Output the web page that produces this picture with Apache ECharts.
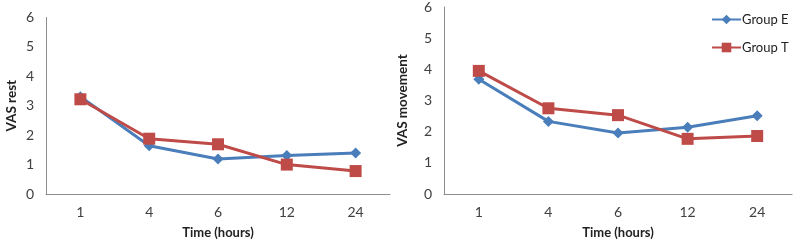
<!DOCTYPE html>
<html><head><meta charset="utf-8">
<script src="https://cdn.jsdelivr.net/npm/echarts@6/dist/echarts.min.js"></script>
<style>html,body{margin:0;padding:0;background:#fff}#c{width:794px;height:244px}</style>
</head><body><div id="c"></div>
<script>
const categories = ['1','4','6','12','24'];
const restE = [3.31, 1.64, 1.19, 1.31, 1.39];
const restT = [3.22, 1.88, 1.69, 1.0, 0.78];
const moveE = [3.68, 2.33, 1.96, 2.14, 2.51];
const moveT = [3.95, 2.75, 2.53, 1.77, 1.86];
const yTicks = [0,1,2,3,4,5,6];

const FONT = 'Lato, "Open Sans", sans-serif';
const BLUE = '#4a7ebb', RED = '#be4b48', AX = '#8c8c8c', TXT = '#404040';

function xAxis(gi){
  return {type:'category', gridIndex:gi, data:categories, boundaryGap:true,
    axisLine:{lineStyle:{color:AX,width:1}}, axisTick:{show:false},
    axisLabel:{color:TXT,fontFamily:FONT,fontSize:14,margin:11},
    name:'Time (hours)', nameLocation:'middle', nameGap:32,
    nameTextStyle:{color:'#222',fontFamily:FONT,fontSize:13,fontWeight:'bold'}};
}
function yAxis(gi,name,gap){
  return {type:'value', gridIndex:gi, min:yTicks[0], max:yTicks[yTicks.length-1], interval:1,
    axisLine:{show:true,lineStyle:{color:AX,width:1}}, axisTick:{show:false},
    splitLine:{show:false},
    axisLabel:{color:TXT,fontFamily:FONT,fontSize:14,margin:12},
    name:name, nameLocation:'middle', nameGap:gap, nameRotate:90,
    nameTextStyle:{color:'#222',fontFamily:FONT,fontSize:13.5,fontWeight:'bold'}};
}
function line(name,data,gi,color,symbol,size){
  return {name:name,type:'line',xAxisIndex:gi,yAxisIndex:gi,data:data,
    symbol:symbol,symbolSize:size,showSymbol:true,
    lineStyle:{color:color,width:3},itemStyle:{color:color},z:symbol==='rect'?3:2};
}
const chart = echarts.init(document.getElementById('c'),null,{renderer:'canvas'});
chart.setOption({
  animation:false,
  grid:[{left:46,top:17.5,width:344,height:177.5},{left:444,top:7,width:348,height:188}],
  xAxis:[xAxis(0),xAxis(1)],
  yAxis:[yAxis(0,'VAS rest',27),yAxis(1,'VAS movement',34)],
  legend:{left:711,top:13,padding:0,orient:'vertical',itemGap:15,itemWidth:29,itemHeight:12,
    textStyle:{color:'#222',fontFamily:FONT,fontSize:13,padding:[0,0,0,-4]},
    data:['Group E','Group T']},
  series:[
    line('Group E',restE,0,BLUE,'diamond',11),
    line('Group T',restT,0,RED,'rect',12),
    line('Group E',moveE,1,BLUE,'diamond',11),
    line('Group T',moveT,1,RED,'rect',12)
  ]
});
</script></body></html>
